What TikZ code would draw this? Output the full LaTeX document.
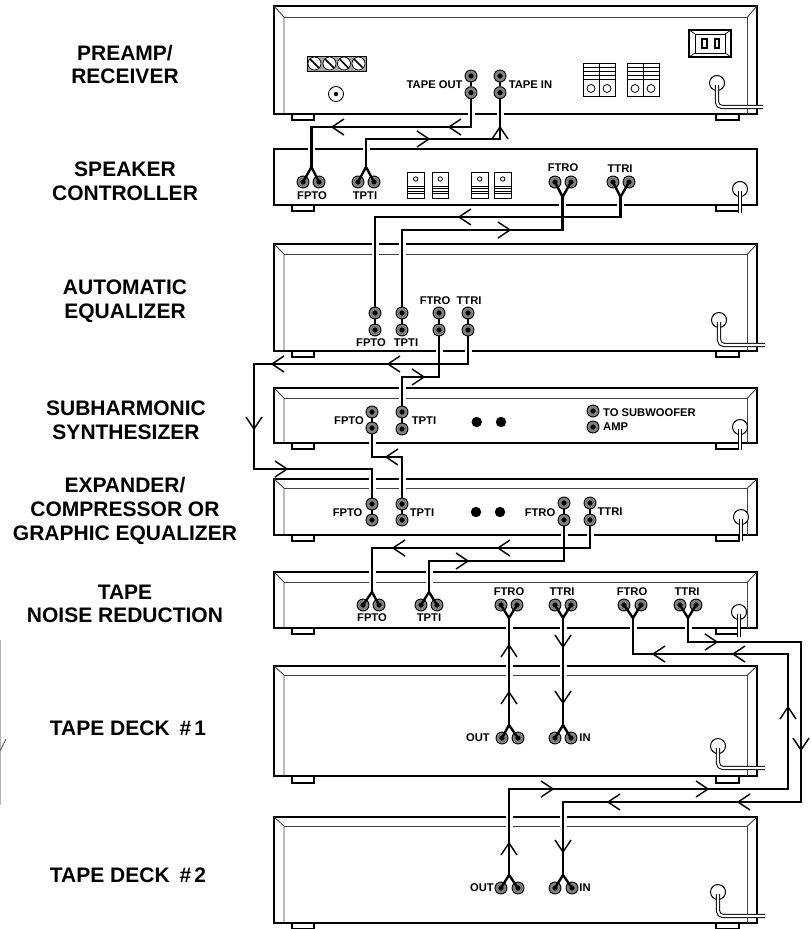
\documentclass[tikz,border=0pt]{standalone}
\usepackage{fontspec}
\setmainfont{Liberation Sans}
\newcommand{\bigfont}{\fontsize{21}{23.6}\selectfont\bfseries}
\newcommand{\smallfont}{\fontsize{11.2}{12}\selectfont\bfseries}
\tikzset{
  device/.style={draw=black,line width=2pt,inner sep=0pt,outer sep=0pt,minimum width=483pt},
  innerline/.style={draw=black!75,line width=0.9pt},
  footbox/.style={draw=black,line width=1.2pt,fill=white},
  jack/.style={circle,draw=black,line width=0.9pt,fill=black!50,minimum size=12pt,inner sep=0pt,
    path picture={\fill[black] (path picture bounding box.center) circle (2.6);}},
  wire/.style={draw=black,line width=2.4pt,line join=miter},
  halo/.style={draw=white,line width=7pt},
  barb/.style={draw=black,line width=1.4pt},
  cordline/.style={draw=black,line width=1pt,double=white,double distance=2.2pt,rounded corners=5pt},
  outlet/.style={circle,draw=black,line width=1pt,fill=white,minimum size=15pt,inner sep=0pt},
  biglabel/.style={align=center,font=\bigfont,text=black,inner sep=0pt},
  smalllabel/.style={font=\smallfont,text=black,inner sep=0pt},
}
% device body: name, top, bottom
\newcommand{\devbody}[3]{\node[device,minimum height={(#3-#2)*1pt}] (#1) at (515.5,{(#2+#3)/2}) {};}
% inner frame: top, bottom, inner top
\newcommand{\devframe}[3]{%
  \draw[innerline] (274,#1)--(284,#3)--(284,#2);
  \draw[innerline] (757,#1)--(747.5,#3)--(747.5,#2);
  \draw[innerline] (284,#3)--(747.5,#3);}
% feet: bottom, height
\newcommand{\devfeet}[2]{%
  \draw[footbox] (292,#1) rectangle (314,#1+#2);
  \draw[footbox] (716,#1) rectangle (739,#1+#2);}
\newcommand{\heads}[3]{\draw[barb,shift={(#1,#2)},rotate=#3] (-12,-8)--(0,0)--(-12,8);}
\newcommand{\jc}[3]{\coordinate (#1) at (#2,#3);}
\newcommand{\jn}[1]{\node[jack] (#1) at (#1) {};}
\newcommand{\allwires}{%
  \draw[W] (pa) -- (pb) -- (a1) -- (a2) -- (f1);
  \draw[W] (pc) -- (pd) -- (a3) -- (a4) -- (f2);
  \draw[W] (f4) -- (a5) -- (a6) -- (ea);
  \draw[W] (f3) -- (a7) -- (a8) -- (eb);
  \draw[W] (ea) -- (ec);
  \draw[W] (eb) -- (ed);
  \draw[W] (eg) -- (eh) -- (a9) -- (a10) -- (a11) -- (a12) -- (xa);
  \draw[W] (ee) -- (ef) -- (a13) -- (a14) -- (sc);
  \draw[W] (sc) -- (sd);
  \draw[W] (sa) -- (sb) -- (a15) -- (a16) -- (xc);
  \draw[W] (xa) -- (xb);
  \draw[W] (xc) -- (xd);
  \draw[W] (xg) -- (xh) -- (a17) -- (a18) -- (f5);
  \draw[W] (xe) -- (xf) -- (a19) -- (a20) -- (f6);
  \draw[W] (f7) -- (f8);
  \draw[W] (f9) -- (f10);
  \draw[W] (f11) -- (a21) -- (a22) -- (a23) -- (a24) -- (f12);
  \draw[W] (f13) -- (a25) -- (a26) -- (a27) -- (a28) -- (f14);
}
\begin{document}
\begin{tikzpicture}[x=1pt,y=-1pt]
\useasboundingbox (0,0) rectangle (811,929);
\fill[white] (0,0) rectangle (811,929);

% neighbouring mark at the left edge
\draw[black!30,line width=0.8pt] (0.4,640)--(0.4,805);
\draw[black!70,line width=0.8pt] (0,751)--(6,739);

% ---- positions of jacks
\jc{pa}{471}{76}\jc{pb}{471}{92.7}\jc{pc}{500}{76}\jc{pd}{500}{92.7}
\jc{c1}{303}{182}\jc{c2}{319}{182}\jc{c3}{358}{182}\jc{c4}{374}{182}
\jc{c5}{555}{182}\jc{c6}{571}{182}\jc{c7}{613}{182}\jc{c8}{629}{182}
\jc{ea}{375}{313}\jc{ec}{375}{330}\jc{eb}{402}{313}\jc{ed}{402}{330}
\jc{ee}{439}{313}\jc{ef}{439}{330}\jc{eg}{468}{313}\jc{eh}{468}{330}
\jc{sa}{372}{412}\jc{sb}{372}{428}\jc{sc}{402}{412}\jc{sd}{402}{429}
\jc{sw}{593}{411}\jc{sy}{593}{427}
\jc{xa}{372}{504}\jc{xb}{372}{520}\jc{xc}{402}{504}\jc{xd}{402}{520}
\jc{xe}{564}{503}\jc{xf}{564}{520}\jc{xg}{590}{503}\jc{xh}{590}{520}
\jc{n1}{363}{605}\jc{n2}{379}{605}\jc{n3}{421}{605}\jc{n4}{437}{605}
\jc{n5}{501}{605}\jc{n6}{517}{605}\jc{n7}{555}{605}\jc{n8}{571}{605}
\jc{n9}{624}{605}\jc{n10}{641}{605}\jc{n11}{680}{605}\jc{n12}{696}{605}
\jc{d1}{502}{738}\jc{d2}{518}{738}\jc{d3}{555}{738}\jc{d4}{571}{738}
\jc{e1}{501}{888}\jc{e2}{518}{888}\jc{e3}{555}{888}\jc{e4}{572}{888}

% ---- fork points and wire bends
\coordinate (f1) at (311.5,167);\coordinate (f2) at (366,167);
\coordinate (f3) at (562.6,197);\coordinate (f4) at (620.5,197);
\coordinate (a1) at (471,127);\coordinate (a2) at (311.5,127);
\coordinate (a3) at (500,139);\coordinate (a4) at (366,139);
\coordinate (a5) at (620.5,217);\coordinate (a6) at (375,217);
\coordinate (a7) at (562.6,230);\coordinate (a8) at (402,230);
\coordinate (a9) at (468,364);\coordinate (a10) at (254,364);
\coordinate (a11) at (254,469);\coordinate (a12) at (372,469);
\coordinate (a13) at (439,377);\coordinate (a14) at (402,377);
\coordinate (a15) at (372,457);\coordinate (a16) at (402,457);
\coordinate (a17) at (590,548);\coordinate (a18) at (372,548);
\coordinate (a19) at (564,561);\coordinate (a20) at (429,561);
\coordinate (f5) at (372,592);\coordinate (f6) at (429,592);
\coordinate (f7) at (509,618);\coordinate (f8) at (509,725);
\coordinate (f9) at (563,618);\coordinate (f10) at (563,725);
\coordinate (f11) at (633,618);\coordinate (a21) at (633,654);
\coordinate (a22) at (788,654);\coordinate (a23) at (788,789);
\coordinate (a24) at (509,789);\coordinate (f12) at (509,875);
\coordinate (f13) at (688,618);\coordinate (a25) at (688,642);
\coordinate (a26) at (801,642);\coordinate (a27) at (801,802);
\coordinate (a28) at (563,802);\coordinate (f14) at (563,875);

% ---- feet and bodies
\devfeet{114}{6}\devfeet{205}{6}\devfeet{351}{6}\devfeet{443}{6}
\devfeet{535}{6}\devfeet{628}{6}\devfeet{776}{7}\devfeet{923}{5.5}
\devbody{preamp}{6}{114}
\devbody{speaker}{149}{205}
\devbody{autoeq}{244}{351}
\devbody{subharm}{388}{443}
\devbody{expander}{479}{535}
\devbody{noisered}{572}{628}
\devbody{deckone}{666}{776}
\devbody{decktwo}{817}{923}
\devframe{6}{114}{17}
\devframe{244}{351}{254}
\devframe{388}{443}{398}
\devframe{479}{535}{488}
\devframe{572}{628}{582}
\devframe{666}{776}{675}
\devframe{817}{923}{826}

% ---- mains socket and terminals on the preamp
\draw[black,line width=1.6pt] (689,30) rectangle (731,57);
\draw[black,line width=0.9pt] (695,34) rectangle (725,53);
\foreach \q/\r in {689/695,731/725} {\draw[black,line width=0.7pt] (\q,30)--(\r,34) (\q,57)--(\r,53);}
\draw[black,line width=1.3pt,fill=white] (702,39) rectangle (707,48);
\draw[black,line width=1.3pt,fill=white] (715,39) rectangle (719,48);
\draw[black,line width=1pt,fill=black!35] (307,56) rectangle (366.5,71);
\foreach \q in {314.5,329.5,344,358.5}{
  \draw[black,line width=0.7pt,fill=white] (\q,63.5) circle (6.5);
  \draw[black,line width=1.5pt] (\q-4.5,59)--(\q+4.5,68);}
\node[circle,draw=black,line width=0.9pt,fill=white,minimum size=15pt,inner sep=0pt,
  path picture={\fill[black] (path picture bounding box.center) circle (2.2);}] (gndpost) at (336,94) {};
\foreach \q in {583,599,627,643}{
  \draw[black,line width=0.9pt,fill=white] (\q,63) rectangle (\q+16,96);
  \foreach \w in {67,71,75,79} \draw[black,line width=0.6pt] (\q,\w)--(\q+16,\w);
  \draw[black,line width=0.8pt] (\q+8,88.5) circle (4);}
% ---- switches on the speaker controller
\foreach \q in {407.5,432,471.5,494.5}{
  \draw[black,line width=0.9pt,fill=white] (\q,172) rectangle (\q+16.5,198);
  \foreach \w in {186,188.5,191,193.5} \draw[black,line width=0.6pt] (\q,\w)--(\q+16.5,\w);
  \draw[black,line width=0.8pt] (\q+8.2,179) circle (2.2);}
% ---- black knobs
\foreach \q/\r/\nm in {476.7/422/ka,501/422/kb,476/512/kc,500/512/kd}
  \fill[black] (\q,\r) circle (5.2);

% ---- mains cords
\node[outlet] (oa) at (717,83) {};
\draw[cordline] (717,85) -- (717,107) -- (763,107);
\node[outlet] (ob) at (740,189) {};
\draw[cordline] (740,191) -- (740,213);
\node[outlet] (oc) at (719,320) {};
\draw[cordline] (719,322) -- (719,345) -- (765,345);
\node[outlet] (od) at (740,427) {};
\draw[cordline] (740,429) -- (740,450);
\node[outlet] (oe) at (741,517) {};
\draw[cordline] (741,519) -- (741,541);
\node[outlet] (of) at (739,612) {};
\draw[cordline] (739,614) -- (739,637);
\node[outlet] (og) at (718,746) {};
\draw[cordline] (718,748) -- (718,768) -- (765,768);
\node[outlet] (oh) at (718,892) {};
\draw[cordline] (718,894) -- (718,916) -- (765,916);

% ---- clearing gaps where wires cross the drawings
\tikzset{W/.style=halo}
\allwires

% ---- jacks
\foreach \j in {pa,pb,pc,pd,c1,c2,c3,c4,c5,c6,c7,c8,ea,ec,eb,ed,ee,ef,eg,eh,
  sa,sb,sc,sd,sw,sy,xa,xb,xc,xd,xe,xf,xg,xh,n1,n2,n3,n4,n5,n6,n7,n8,n9,n10,n11,n12,
  d1,d2,d3,d4,e1,e2,e3,e4}{\jn{\j}}

% ---- wires
\tikzset{W/.style=wire}
\allwires
% forks
\draw[wire] (c1.center)--(f1)--(c2.center);
\draw[wire] (c3.center)--(f2)--(c4.center);
\draw[wire] (c5.center)--(f3)--(c6.center);
\draw[wire] (c7.center)--(f4)--(c8.center);
\draw[wire] (n1.center)--(f5)--(n2.center);
\draw[wire] (n3.center)--(f6)--(n4.center);
\draw[wire] (n5.center)--(f7)--(n6.center);
\draw[wire] (n7.center)--(f9)--(n8.center);
\draw[wire] (n9.center)--(f11)--(n10.center);
\draw[wire] (n11.center)--(f13)--(n12.center);
\draw[wire] (d1.center)--(f8)--(d2.center);
\draw[wire] (d3.center)--(f10)--(d4.center);
\draw[wire] (e1.center)--(f12)--(e2.center);
\draw[wire] (e3.center)--(f14)--(e4.center);

% ---- arrowheads
\heads{332}{127}{180}\heads{449}{127}{180}\heads{429}{139}{0}\heads{500}{127}{90}
\heads{459}{217}{180}\heads{510}{230}{0}
\heads{388}{364}{180}\heads{272}{364}{180}\heads{254}{429}{-90}\heads{287}{469}{0}
\heads{424}{377}{0}\heads{386}{457}{180}
\heads{393}{548}{180}\heads{498}{548}{180}\heads{468}{561}{0}
\heads{509}{645}{90}\heads{509}{692}{90}\heads{563}{647}{-90}\heads{563}{703}{-90}
\heads{717}{642}{0}\heads{653}{654}{180}\heads{733}{654}{180}
\heads{788}{707}{90}\heads{801}{750}{-90}
\heads{553}{789}{0}\heads{708}{789}{0}\heads{608}{802}{180}\heads{738}{802}{180}
\heads{509}{843}{90}\heads{563}{852}{-90}

% ---- small labels
\node[smalllabel] (l1) at (434.6,85) {TAPE OUT};
\node[smalllabel] (l2) at (530.5,85) {TAPE IN};
\node[smalllabel] (l3) at (312,196) {FPTO};
\node[smalllabel] (l4) at (365,196) {TPTI};
\node[smalllabel] (l5) at (563,168) {FTRO};
\node[smalllabel] (l6) at (620,169) {TTRI};
\node[smalllabel] (l7) at (371,343) {FPTO};
\node[smalllabel] (l8) at (406,343) {TPTI};
\node[smalllabel] (l9) at (435,301) {FTRO};
\node[smalllabel] (l10) at (469,301) {TTRI};
\node[smalllabel] (l11) at (349,421) {FPTO};
\node[smalllabel] (l12) at (424,421) {TPTI};
\node[smalllabel,anchor=west] (l13) at (603,413) {TO SUBWOOFER};
\node[smalllabel,anchor=west] (l14) at (603,427) {AMP};
\node[smalllabel] (l15) at (347.6,513) {FPTO};
\node[smalllabel] (l16) at (422,513) {TPTI};
\node[smalllabel] (l17) at (540,513) {FTRO};
\node[smalllabel] (l18) at (610,512) {TTRI};
\node[smalllabel] (l19) at (372,618) {FPTO};
\node[smalllabel] (l20) at (429,618) {TPTI};
\node[smalllabel] (l21) at (509,592) {FTRO};
\node[smalllabel] (l22) at (562,592) {TTRI};
\node[smalllabel] (l23) at (632,592) {FTRO};
\node[smalllabel] (l24) at (687,592) {TTRI};
\node[smalllabel] (l25) at (478,738) {OUT};
\node[smalllabel] (l26) at (585,738) {IN};
\node[smalllabel] (l27) at (482,888) {OUT};
\node[smalllabel] (l28) at (585,888) {IN};

% ---- big labels
\node[biglabel] (t1) at (125,64.5) {PREAMP/\\RECEIVER};
\node[biglabel] (t2) at (125,181.5) {SPEAKER\\CONTROLLER};
\node[biglabel] (t3) at (125,301.5) {AUTOMATIC\\EQUALIZER};
\node[biglabel] (t4) at (126,420) {SUBHARMONIC\\SYNTHESIZER};
\node[biglabel] (t5) at (125,511) {EXPANDER/\\COMPRESSOR OR\\GRAPHIC EQUALIZER};
\node[biglabel] (t6) at (125,604) {TAPE\\NOISE REDUCTION};
\node[biglabel] (t7) at (128,728) {TAPE DECK\hspace{10pt}\#\hspace{3pt}1};
\node[biglabel] (t8) at (128,875) {TAPE DECK\hspace{10pt}\#\hspace{3pt}2};
\end{tikzpicture}
\end{document}
